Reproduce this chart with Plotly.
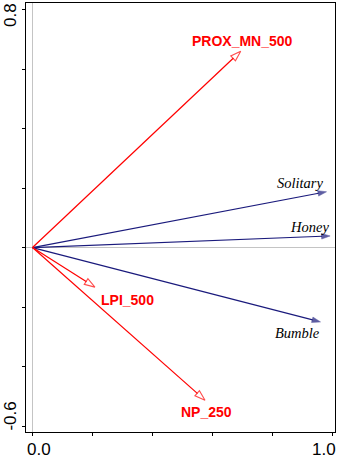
import plotly.graph_objects as go

# Species (response) arrows
species = ["Solitary", "Honey", "Bumble"]
species_x = [0.98, 0.992, 0.96]
species_y = [0.1875, 0.039, -0.250]

# Environmental arrows
env = ["PROX_MN_500", "LPI_500", "NP_250"]
env_x = [0.694, 0.208, 0.575]
env_y = [0.660, -0.133, -0.513]

x_ticks = [0.0, 0.2, 0.4, 0.6, 0.8, 1.0]
y_ticks = [-0.6, -0.4, -0.2, 0.0, 0.2, 0.4, 0.6, 0.8]
x_tick_labels = {0.0: "0.0", 1.0: "1.0"}
y_tick_labels = {0.8: "0.8", -0.6: "-0.6"}

RED = "#ff0000"
NAVY = "#1a1a7c"

fig = go.Figure()

for name, xv, yv in zip(species, species_x, species_y):
    fig.add_trace(go.Scatter(
        x=[0, xv], y=[0, yv], mode="lines+markers",
        line=dict(color=NAVY, width=1.2),
        marker=dict(symbol="arrow", size=[0, 9], angleref="previous",
                    color=NAVY, line=dict(color=NAVY, width=0.5)),
        hoverinfo="skip", showlegend=False))

for name, xv, yv in zip(env, env_x, env_y):
    fig.add_trace(go.Scatter(
        x=[0, xv], y=[0, yv], mode="lines+markers",
        line=dict(color=RED, width=1.2),
        marker=dict(symbol="arrow", size=[0, 11], angleref="previous",
                    color="white", line=dict(color=RED, width=1.1)),
        hoverinfo="skip", showlegend=False))

# label offsets in pixels (dx, dy with dy positive = up)
species_off = {"Solitary": (-26.5, 9), "Honey": (-21, 9.3), "Bumble": (-23.5, -11)}
env_off = {"PROX_MN_500": (2, 10), "LPI_500": (33, -12.5), "NP_250": (1, -12)}

annotations = []
for name, xv, yv in zip(species, species_x, species_y):
    dx, dy = species_off[name]
    annotations.append(dict(x=xv, y=yv, xref="x", yref="y", text=name, showarrow=False,
                            xshift=dx, yshift=dy, xanchor="center", yanchor="middle",
                            font=dict(family="Liberation Serif", size=14.5, color="black", style="italic")))
for name, xv, yv in zip(env, env_x, env_y):
    dx, dy = env_off[name]
    annotations.append(dict(x=xv, y=yv, xref="x", yref="y", text="<b>%s</b>" % name, showarrow=False,
                            xshift=dx, yshift=dy, xanchor="center", yanchor="middle",
                            font=dict(family="Liberation Sans", size=14, color=RED)))

xshifts = {0.0: 6.5, 1.0: -8.4}
for v, t in x_tick_labels.items():
    annotations.append(dict(x=v, y=0, xref="x", yref="paper", text=t, showarrow=False,
                            xshift=xshifts[v], yshift=-17.5, xanchor="center", yanchor="middle",
                            borderpad=0,
                            font=dict(family="Liberation Sans", size=17, color="black")))
yshifts = {0.8: (-15.5, -6), -0.6: (-15.5, 10)}
for v, t in y_tick_labels.items():
    sx, sy = yshifts[v]
    annotations.append(dict(x=0, y=v, xref="paper", yref="y", text=t, showarrow=False,
                            textangle=-90, xshift=sx, yshift=sy, xanchor="center", yanchor="middle",
                            borderpad=0,
                            font=dict(family="Liberation Sans", size=17, color="black")))

axis_common = dict(showgrid=False, showline=True, linecolor="black", linewidth=1, mirror=True,
                   ticks="outside", ticklen=3, tickcolor="black", tickwidth=1,
                   showticklabels=False, zeroline=True, zerolinecolor="#c4c4c4", zerolinewidth=1)

fig.update_layout(
    width=340, height=459,
    margin=dict(l=26, r=5, t=3, b=27),
    paper_bgcolor="white", plot_bgcolor="white",
    xaxis=dict(range=[-0.0217, 1.0083], tickvals=x_ticks, **axis_common),
    yaxis=dict(range=[-0.620, 0.822], tickvals=y_ticks, **axis_common),
    annotations=annotations,
)

fig.write_html("out.html", config={"displayModeBar": False},
               post_script="document.body.style.margin='0';")
